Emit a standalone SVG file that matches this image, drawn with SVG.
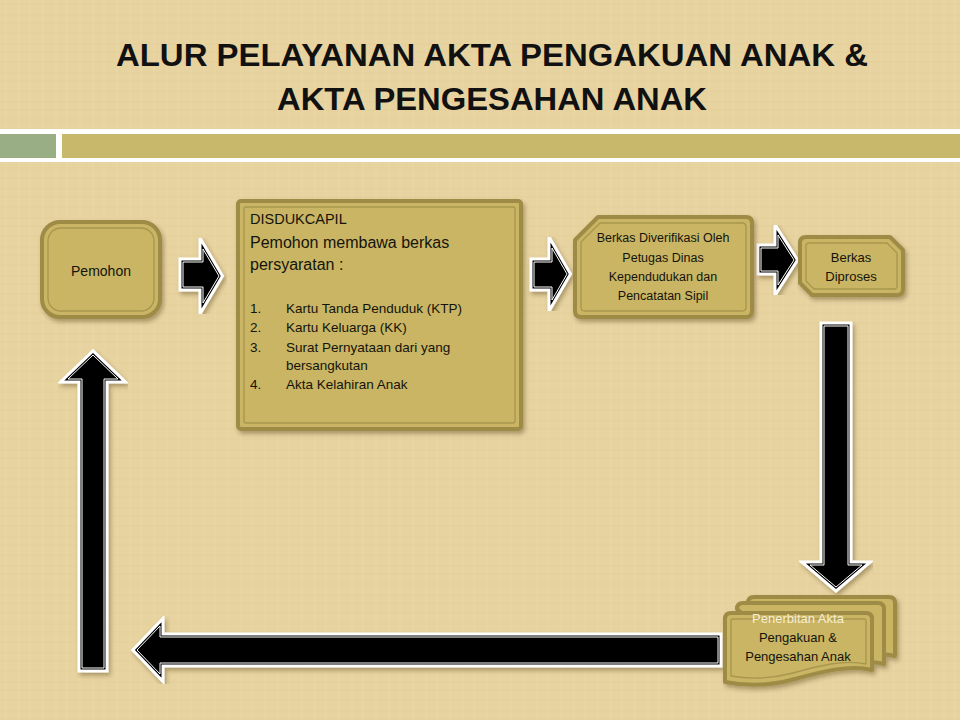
<svg xmlns="http://www.w3.org/2000/svg" width="960" height="720" viewBox="0 0 960 720">
<defs>
<pattern id="canvas" width="37" height="29" patternUnits="userSpaceOnUse">
<rect width="37" height="29" fill="#E8D4A3"/>
<path d="M0 4H37M0 15H37M0 23H37" stroke="#D8C18A" stroke-width="1" opacity="0.3"/>
<path d="M6 0V29M19 0V29M30 0V29" stroke="#F4E6C0" stroke-width="1" opacity="0.35"/>
</pattern>
<filter id="sh" x="-20%" y="-20%" width="140%" height="140%">
<feDropShadow dx="2" dy="3" stdDeviation="2" flood-color="#3a2a00" flood-opacity="0.35"/>
</filter>
<style>
.box{fill:#C9B563;stroke:#9E8B45;stroke-width:4;stroke-linejoin:round}
.inner{fill:none;stroke:#A8964F;stroke-width:1.3;stroke-linejoin:round}
.t{font-family:"Liberation Sans",Arial,sans-serif;fill:#14140c}
.ttl{font-family:"Liberation Sans",Arial,sans-serif;font-weight:bold;font-size:32px;fill:#111}
.aw{fill:#fff;stroke:#fff;stroke-width:9;stroke-linejoin:miter}
.ab{fill:#000;stroke:#000;stroke-width:3;stroke-linejoin:miter}
.al{fill:none;stroke:#fff;stroke-width:1;stroke-linejoin:miter}
</style>
</defs>
<rect width="960" height="720" fill="url(#canvas)"/>
<rect width="960" height="720" fill="#E6D09C" opacity="0.35"/>
<!-- header bars -->
<rect x="0" y="129" width="960" height="33" fill="#FFFFFF"/>
<rect x="0" y="134" width="56" height="24" fill="#9AAE85"/>
<rect x="62" y="134" width="898" height="24" fill="#C8B86C"/>
<text class="ttl" x="492" y="66" text-anchor="middle" textLength="752" lengthAdjust="spacingAndGlyphs">ALUR PELAYANAN AKTA PENGAKUAN ANAK &amp;</text>
<text class="ttl" x="492" y="110" text-anchor="middle" textLength="430" lengthAdjust="spacingAndGlyphs">AKTA PENGESAHAN ANAK</text>

<g id="connectors">
<g filter="url(#sh)">
<path class="aw" d="M183 262H203V249L219 276L203 303V287H183Z"/>
<path class="ab" d="M183 262H203V249L219 276L203 303V287H183Z"/>
<path class="al" d="M183 262H203V249L219 276L203 303V287H183Z"/>
</g>
<g filter="url(#sh)">
<path class="aw" d="M534 262H552V248L567 274L552 300V287H534Z"/>
<path class="ab" d="M534 262H552V248L567 274L552 300V287H534Z"/>
<path class="al" d="M534 262H552V248L567 274L552 300V287H534Z"/>
</g>
<g filter="url(#sh)">
<path class="aw" d="M761 248H778V235L794 260L778 285V271H761Z"/>
<path class="ab" d="M761 248H778V235L794 260L778 285V271H761Z"/>
<path class="al" d="M761 248H778V235L794 260L778 285V271H761Z"/>
</g>
<g filter="url(#sh)">
<path class="aw" d="M824 326H848V565H862L836 587L810 565H824Z"/>
<path class="ab" d="M824 326H848V565H862L836 587L810 565H824Z"/>
<path class="al" d="M824 326H848V565H862L836 587L810 565H824Z"/>
</g>
<g filter="url(#sh)">
<path class="aw" d="M718 637H160V626L137 650L160 674V663H718Z"/>
<path class="ab" d="M718 637H160V626L137 650L160 674V663H718Z"/>
<path class="al" d="M718 637H160V626L137 650L160 674V663H718Z"/>
</g>
<g filter="url(#sh)">
<path class="aw" d="M82 668V379H68L93 355L118 379H104V668Z"/>
<path class="ab" d="M82 668V379H68L93 355L118 379H104V668Z"/>
<path class="al" d="M82 668V379H68L93 355L118 379H104V668Z"/>
</g>
</g>

<g id="pemohon">
<rect class="box" x="42" y="222" width="118" height="95" rx="18" filter="url(#sh)"/>
<rect class="inner" x="48" y="228" width="106" height="83" rx="13"/>
<text class="t" x="101" y="276" font-size="14" text-anchor="middle">Pemohon</text>
</g>

<g id="disdukcapil">
<rect class="box" x="238" y="201" width="283" height="228" rx="3" filter="url(#sh)"/>
<rect class="inner" x="244" y="207" width="271" height="216" rx="2"/>
<text class="t" x="250" y="224" font-size="14.5">DISDUKCAPIL</text>
<text class="t" x="250" y="248" font-size="16">Pemohon membawa berkas</text>
<text class="t" x="250" y="270" font-size="16">persyaratan :</text>
<g font-size="13.5">
<text class="t" x="250" y="313">1.</text><text class="t" x="286" y="313">Kartu Tanda Penduduk (KTP)</text>
<text class="t" x="250" y="332">2.</text><text class="t" x="286" y="332">Kartu Keluarga (KK)</text>
<text class="t" x="250" y="352">3.</text><text class="t" x="286" y="352">Surat Pernyataan dari yang</text>
<text class="t" x="286" y="370">bersangkutan</text>
<text class="t" x="250" y="389">4.</text><text class="t" x="286" y="389">Akta Kelahiran Anak</text>
</g>
</g>

<g id="verifikasi">
<path class="box" d="M575 240L598 217H746Q752 217 752 223V311Q752 317 746 317H581Q575 317 575 311Z" filter="url(#sh)"/>
<path class="inner" d="M581 242L600 223H742Q746 223 746 227V307Q746 311 742 311H585Q581 311 581 307Z"/>
<g font-size="12.5" text-anchor="middle">
<text class="t" x="663" y="242">Berkas Diverifikasi Oleh</text>
<text class="t" x="663" y="262">Petugas Dinas</text>
<text class="t" x="663" y="281">Kependudukan dan</text>
<text class="t" x="663" y="300">Pencatatan Sipil</text>
</g>
</g>

<g id="diproses">
<path class="box" d="M800 243Q800 237 806 237H890L903 250V289Q903 295 897 295H812L800 283Z" filter="url(#sh)"/>
<path class="inner" d="M806 246Q806 243 809 243H887L897 253V286Q897 289 894 289H814L806 281Z"/>
<g font-size="13" text-anchor="middle">
<text class="t" x="851" y="262">Berkas</text>
<text class="t" x="851" y="281">Diproses</text>
</g>
</g>

<g id="penerbitan">
<g filter="url(#sh)">
<path class="box" d="M748 603Q748 597 754 597H889Q895 597 895 603V656C880 652 865 656 850 660C835 664 820 664 815 662Z"/>
<path class="box" d="M737 609Q737 603 743 603H878Q884 603 884 609V664C869 660 854 664 839 668C824 672 809 672 804 670Z"/>
<path class="box" d="M725 619Q725 613 731 613H866Q872 613 872 619V670C850 664 820 672 795 679C770 686 745 686 725 682Z"/>
</g>
<path class="inner" d="M731 620Q731 619 733 619H864Q866 619 866 621V664C845 659 818 666 793 673C770 679 748 679 731 676Z"/>
<g font-size="13" text-anchor="middle">
<text x="798" y="623" font-family="Liberation Sans, Arial, sans-serif" fill="#F7EED6">Penerbitan Akta</text>
<text class="t" x="798" y="642">Pengakuan &amp;</text>
<text class="t" x="798" y="661">Pengesahan Anak</text>
</g>
</g>
</svg>
